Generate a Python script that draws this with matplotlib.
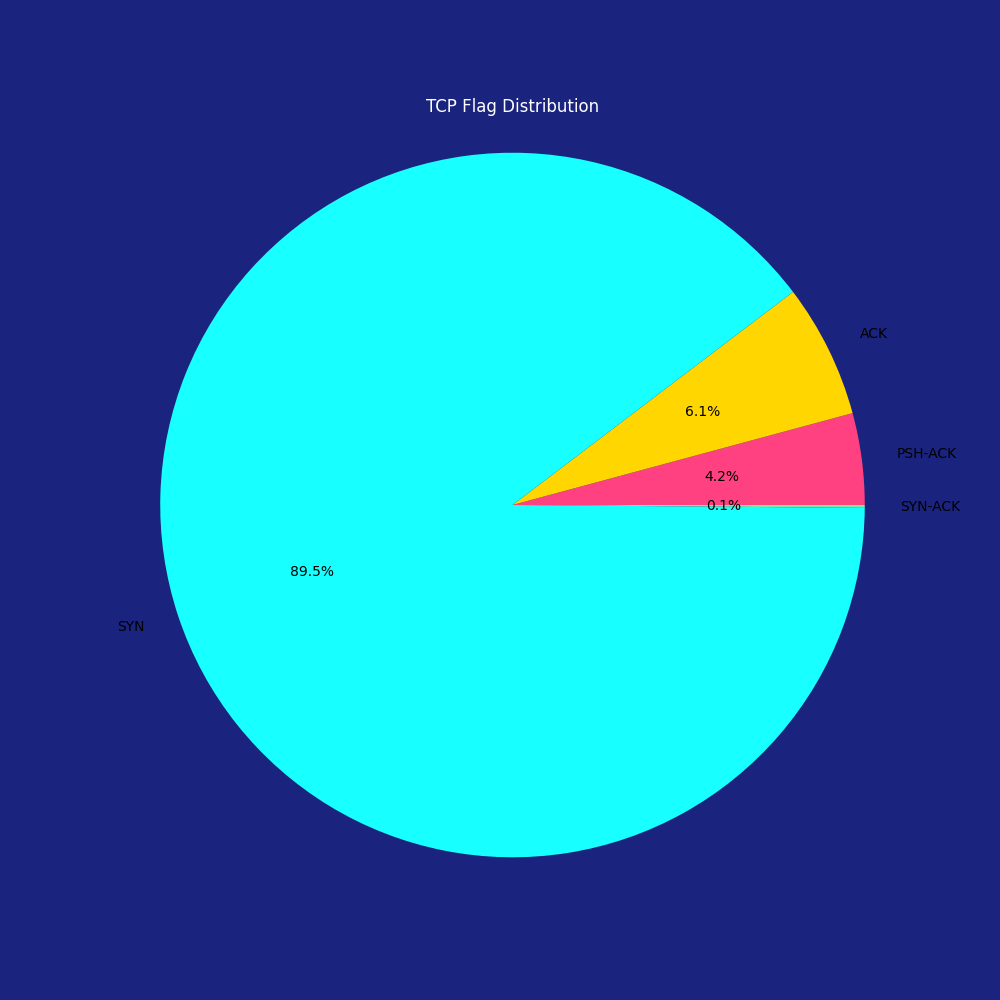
import matplotlib
matplotlib.use('Agg')
import matplotlib.pyplot as plt

labels = ['PSH-ACK', 'ACK', 'SYN', 'SYN-ACK']
values = [4.20, 6.14, 89.53, 0.13]
colors = ['#FF4081', '#FFD600', '#18FFFF', '#69F0AE']

fig, ax = plt.subplots(figsize=(10, 10), dpi=100)
fig.patch.set_facecolor('#1A237E')
ax.set_facecolor('#1A237E')

ax.pie(values, labels=labels, colors=colors, autopct='%1.1f%%')
ax.axis('equal')
ax.set_title('TCP Flag Distribution', color='white')

plt.savefig('out.png', facecolor=fig.get_facecolor())
